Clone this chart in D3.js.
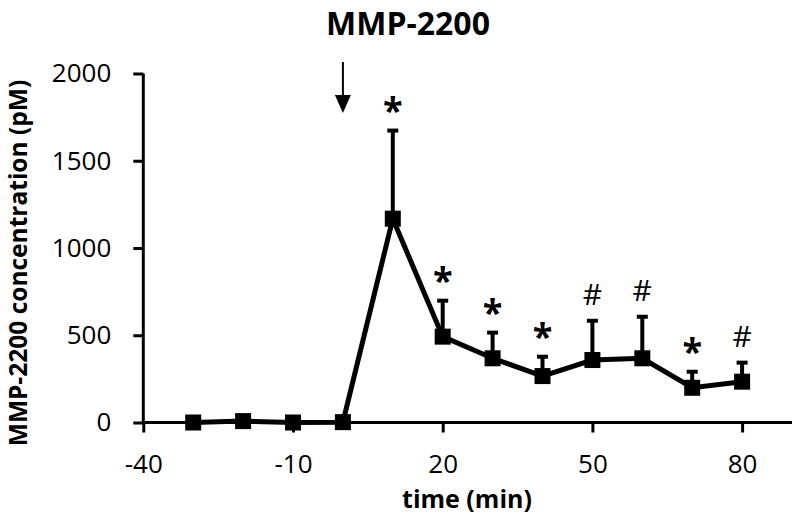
<!DOCTYPE html>
<html>
<head>
<meta charset="utf-8">
<script src="https://cdn.jsdelivr.net/npm/d3@7"></script>
<style>
  html, body { margin: 0; padding: 0; background: #fff; }
  svg { display: block; }
  text { font-family: "Open Sans", "Liberation Sans", sans-serif; fill: #000; }
</style>
</head>
<body>
<svg id="chart" width="800" height="527"></svg>
<script>
// ---- data ----
const times = [-30, -20, -10, 0, 10, 20, 30, 40, 50, 60, 70, 80];
const concentration = [0, 8, 0, 2, 1168, 492, 368, 266, 358, 368, 199, 234];
const errorUpper = [0, 0, 0, 0, 505, 206, 147, 111, 225, 238, 92, 109];
const significance = ["", "", "", "", "*", "*", "*", "*", "#", "#", "*", "#"];
const xTicks = [-40, -10, 20, 50, 80];
const yTicks = [0, 500, 1000, 1500, 2000];
const injectionTime = 0;
const titleText = "MMP-2200";
const xTitle = "time (min)";
const yTitle = "MMP-2200 concentration (pM)";

const data = times.map((t, i) => ({ t, v: concentration[i], e: errorUpper[i], s: significance[i] }));

const svg = d3.select("#chart");
const x = d3.scaleLinear().domain([-40, 90]).range([143.3, 792]);
const y = d3.scaleLinear().domain([0, 2000]).range([422.5, 73.5]);

// title
svg.append("text")
  .attr("x", 408).attr("y", 35)
  .attr("text-anchor", "middle")
  .style("font-size", "32px").style("font-weight", "bold")
  .text(titleText);

// axes
const xAxis = d3.axisBottom(x).tickValues(xTicks).tickSize(10).tickFormat(d => d < 0 ? "-" + Math.abs(d) : String(d));
const gx = svg.append("g").attr("transform", `translate(0,${y(0)})`).call(xAxis);
gx.select(".domain").attr("d", `M${x(-40)},0H${x(90)}`).attr("stroke-width", 3);
gx.selectAll(".tick line").attr("stroke-width", 3);
gx.selectAll(".tick text").style("font-size", "26px").attr("y", 50).attr("dy", null);

const yAxis = d3.axisLeft(y).tickValues(yTicks).tickSize(10).tickPadding(22).tickFormat(d3.format("d"));
const gy = svg.append("g").attr("transform", `translate(${x(-40)},0)`).call(yAxis);
gy.select(".domain").attr("d", `M0,${y(2000)}V${y(0)}`).attr("stroke-width", 3);
gy.selectAll(".tick line").attr("stroke-width", 3);
gy.selectAll(".tick text").style("font-size", "26px");

// axis titles
svg.append("text")
  .attr("x", 467).attr("y", 508)
  .attr("text-anchor", "middle")
  .style("font-size", "25px").style("font-weight", "bold")
  .text(xTitle);
svg.append("text")
  .attr("transform", `translate(27,263) rotate(-90)`)
  .attr("text-anchor", "middle")
  .style("font-size", "24.5px").style("font-weight", "bold")
  .text(yTitle);

// error bars (upper only)
const eb = svg.append("g");
data.filter(d => d.e > 0).forEach(d => {
  eb.append("line")
    .attr("x1", x(d.t)).attr("x2", x(d.t))
    .attr("y1", y(d.v)).attr("y2", y(d.v + d.e))
    .attr("stroke", "#000").attr("stroke-width", 4);
  eb.append("line")
    .attr("x1", x(d.t) - 5.5).attr("x2", x(d.t) + 5.5)
    .attr("y1", y(d.v + d.e)).attr("y2", y(d.v + d.e))
    .attr("stroke", "#000").attr("stroke-width", 4);
});

// line
svg.append("path")
  .datum(data)
  .attr("fill", "none").attr("stroke", "#000").attr("stroke-width", 5)
  .attr("stroke-linejoin", "miter")
  .attr("d", d3.line().x(d => x(d.t)).y(d => y(d.v)));

// markers
svg.append("g").selectAll("rect").data(data).join("rect")
  .attr("x", d => x(d.t) - 8).attr("y", d => y(d.v) - 8)
  .attr("width", 16).attr("height", 16).attr("fill", "#000");

// significance marks
svg.append("g").selectAll("text").data(data.filter(d => d.s)).join("text")
  .attr("x", d => x(d.t))
  .attr("y", d => y(d.v + d.e) - (d.s === "*" ? 8 : 16))
  .attr("text-anchor", "middle")
  .style("font-size", d => d.s === "*" ? "36px" : "30px")
  .style("font-weight", d => d.s === "*" ? "bold" : "normal")
  .text(d => d.s);

// injection arrow
const ax = x(injectionTime);
svg.append("line").attr("x1", ax).attr("x2", ax).attr("y1", 62).attr("y2", 98)
  .attr("stroke", "#000").attr("stroke-width", 2);
svg.append("path")
  .attr("d", `M${ax - 8},95L${ax + 8},95L${ax},113Z`).attr("fill", "#000");
</script>
</body>
</html>
